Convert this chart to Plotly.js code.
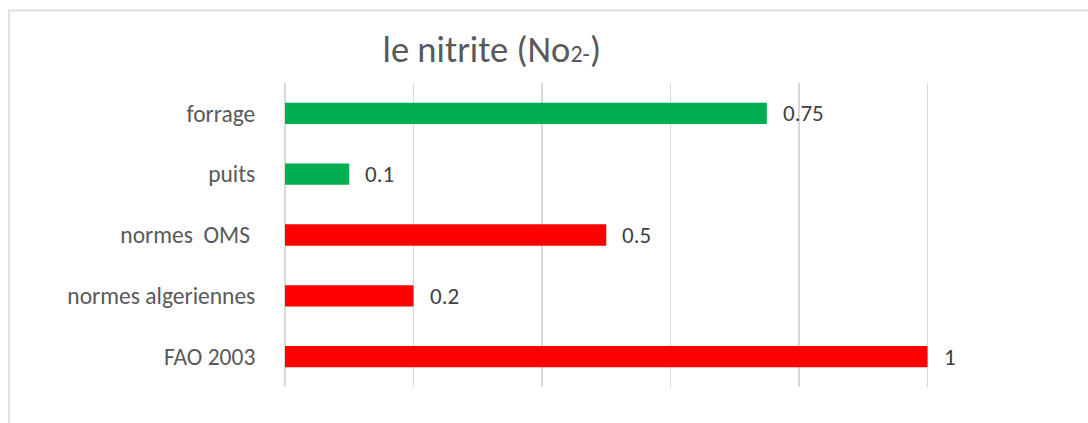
<!DOCTYPE html>
<html><head><meta charset="utf-8">
<script src="https://cdn.plot.ly/plotly-3.0.1.min.js"></script>
<style>html,body{margin:0;padding:0;overflow:hidden;background:#fff}#c{width:1088px;height:423px}</style>
</head><body><div id="c"></div>
<script>
const categories = ["forrage", "puits", "normes  OMS ", "normes algeriennes", "FAO 2003"];
const values = [0.75, 0.1, 0.5, 0.2, 1];
const colors = ["#00B050", "#00B050", "#FF0000", "#FF0000", "#FF0000"];
const labels = ["0.75", "0.1", "0.5", "0.2", "1"];

const font = "Calibri, Carlito, Lato, 'Open Sans', sans-serif";

const trace = {
  type: "bar", orientation: "h",
  x: values, y: categories,
  marker: {color: colors},
  width: 0.35,
  hoverinfo: "none"
};

const annotations = categories.map((c, i) => ({
  x: values[i], y: c, xref: "x", yref: "y",
  text: labels[i], showarrow: false, xanchor: "left", yanchor: "middle",
  xshift: 14, font: {family: font, size: 23, color: "#404040"}
}));

const layout = {
  width: 1088, height: 423,
  margin: {l: 285, r: 32, t: 83, b: 36},
  paper_bgcolor: "rgba(0,0,0,0)", plot_bgcolor: "rgba(0,0,0,0)",
  showlegend: false,
  title: {
    text: 'le nitrite (No<span style="font-size:24px">2-</span>)',
    font: {family: font, size: 36.5, color: "#595959"},
    xref: "container", yref: "container", x: 0.452, y: 0.884,
    xanchor: "center", yanchor: "middle"
  },
  xaxis: {
    range: [0, 1.2], dtick: 0.2, showticklabels: false,
    showgrid: true, gridcolor: "#d9d9d9", gridwidth: 1.5,
    zeroline: true, zerolinecolor: "#d9d9d9", zerolinewidth: 1.5,
    showline: false, fixedrange: true
  },
  yaxis: {
    autorange: "reversed", showgrid: false, zeroline: false, showline: false,
    ticks: "outside", ticklen: 24, tickcolor: "rgba(0,0,0,0)",
    tickfont: {family: font, size: 23.5, color: "#595959"}, fixedrange: true
  },
  annotations: annotations,
  shapes: [{
    type: "rect", xref: "paper", yref: "paper",
    x0: -0.358, x1: 1.2, y0: -0.3, y1: 1.2385,
    line: {color: "#d9d9d9", width: 1.5}, fillcolor: "rgba(0,0,0,0)", layer: "below"
  }]
};

Plotly.newPlot("c", [trace], layout, {displayModeBar: false, staticPlot: true});
</script></body></html>
